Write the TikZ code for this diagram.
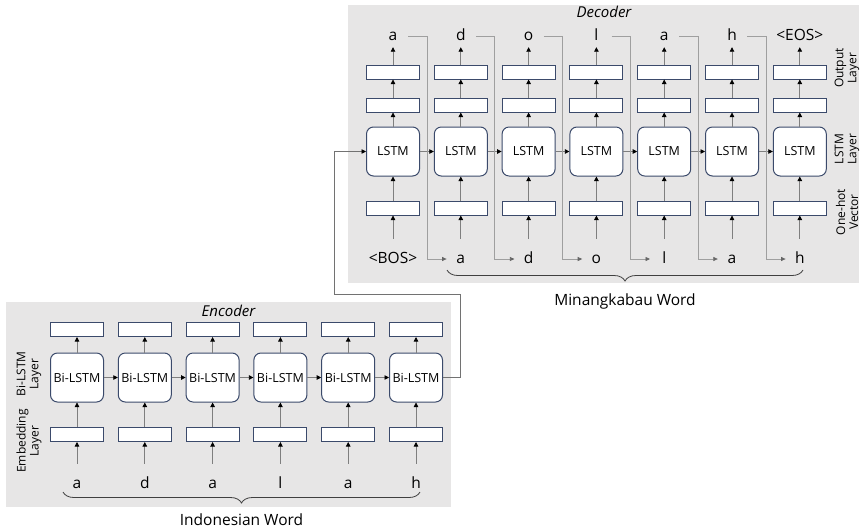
\documentclass[tikz,border=0pt]{standalone}
\usepackage{fontspec}
\setmainfont{Open Sans}
\usetikzlibrary{arrows.meta,decorations.pathreplacing,calc}

\definecolor{panel}{HTML}{E7E6E6}
\definecolor{boxline}{HTML}{3B4A6B}
\definecolor{wire}{HTML}{7F7F7F}
\definecolor{brc}{HTML}{404040}

\tikzset{
	cell/.style={draw=boxline, line width=1pt, fill=white, minimum width=53pt, minimum height=14pt, inner sep=0pt},
	unit/.style={cell, rounded corners=7pt, minimum height=49pt, font=\fontsize{12.5}{14}\selectfont},
	arr/.style={draw=wire, line width=0.8pt, -{Triangle[color=black,length=4.5pt,width=4.5pt]}},
	fb/.style={draw=wire!75, line width=0.7pt, -{Triangle[color=wire!80!black,length=4.5pt,width=4pt]}},
	inchar/.style={font=\fontsize{15.5}{18}\selectfont, anchor=base, text height=12pt, text depth=4pt, inner xsep=0pt, inner ysep=12pt, minimum width=28pt},
	outchar/.style={inchar, inner ysep=3pt, minimum width=30pt},
	title/.style={font=\fontsize{15}{18}\selectfont\itshape, anchor=base},
	wordlbl/.style={font=\fontsize{15.5}{18}\selectfont, anchor=base},
	sidelbl/.style={rotate=90, align=center, inner sep=0pt, font=\fontsize{12}{13}\selectfont},
	bracket/.style={draw=brc, line width=0.8pt, decorate, decoration={brace, mirror, amplitude=11pt}}
}

\begin{document}
\begin{tikzpicture}[x=1pt, y=-1pt]
	\useasboundingbox (0,0) rectangle (861,531);
	% grey panels
	\fill[panel] (348,5) rectangle (859,283);
	\fill[panel] (6,302) rectangle (451,507);
	\node[title] (dectitle) at (604,17) {Decoder};
	\node[title] (enctitle) at (228.5,316) {Encoder};

	% decoder columns
	\foreach \i in {0,...,6} {
		\pgfmathsetmacro{\cx}{393+67.8*\i}
		\node[unit] (lstm\i) at (\cx,151.5) {LSTM};
		\node[cell] (hid\i) at (\cx,105) {};
		\node[cell] (out\i) at (\cx,72) {};
		\node[cell] (hot\i) at (\cx,208) {};
	}
	\foreach \i/\c in {0/a,1/d,2/o,3/l,4/a,5/h,6/<EOS>} {
		\pgfmathsetmacro{\cx}{393+67.8*\i}
		\node[outchar] (res\i) at (\cx,40) {\c};
	}
	\foreach \i/\c in {0/<BOS>,1/a,2/d,3/o,4/l,5/a,6/h} {
		\pgfmathsetmacro{\cx}{393+67.8*\i}
		\node[inchar] (in\i) at (\cx,263) {\c};
	}
	\foreach \i in {0,...,6} {
		\draw[arr] (in\i.north) -- (hot\i.south);
		\draw[arr] (hot\i.north) -- (lstm\i.south);
		\draw[arr] (lstm\i.north) -- (hid\i.south);
		\draw[arr] (hid\i.north) -- (out\i.south);
		\draw[arr] (out\i.north) -- (res\i.south);
	}
	\foreach \i [evaluate=\i as \j using int(\i+1)] in {0,...,5} {
		\draw[arr] (lstm\i.east) -- (lstm\j.west);
		\draw[fb] (res\i.east) -| ($(lstm\i.east)!0.5!(lstm\j.west)$) |- (in\j.west);
	}
	\node[sidelbl] (lblout) at (847,68) {Output\\Layer};
	\node[sidelbl] (lbllstm) at (847,149) {LSTM\\Layer};
	\node[sidelbl] (lblhot) at (847,212) {One-hot\\Vector};

	% encoder columns
	\foreach \i/\c in {0/a,1/d,2/a,3/l,4/a,5/h} {
		\pgfmathsetmacro{\cx}{77+67.8*\i}
		\node[unit] (bil\i) at (\cx,377.5) {Bi-LSTM};
		\node[cell] (enc\i) at (\cx,329.5) {};
		\node[cell] (emb\i) at (\cx,434.5) {};
		\node[inchar] (src\i) at (\cx,488) {\c};
		\draw[arr] (src\i.north) -- (emb\i.south);
		\draw[arr] (emb\i.north) -- (bil\i.south);
		\draw[arr] (bil\i.north) -- (enc\i.south);
	}
	\foreach \i [evaluate=\i as \j using int(\i+1)] in {0,...,4}
		\draw[arr] (bil\i.east) -- (bil\j.west);
	\node[sidelbl] (lblbil) at (29,374) {Bi-LSTM\\Layer};
	\node[sidelbl] (lblemb) at (29,441) {Embedding\\Layer};

	% encoder state into the decoder
	\coordinate (hopa) at (460,294);
	\coordinate (hopb) at (334,294);
	\draw[arr, draw=wire!90!black] (bil5.east) -| (hopa) -- (hopb) |- (lstm0.west);

	% word brackets
	\draw[bracket] (447,270) -- (803,270);
	\node[wordlbl] (minword) at (625,305) {Minangkabau Word};
	\draw[bracket] (63,492) -- (420,492);
	\node[wordlbl] (indword) at (241.5,525) {Indonesian Word};
\end{tikzpicture}
\end{document}
